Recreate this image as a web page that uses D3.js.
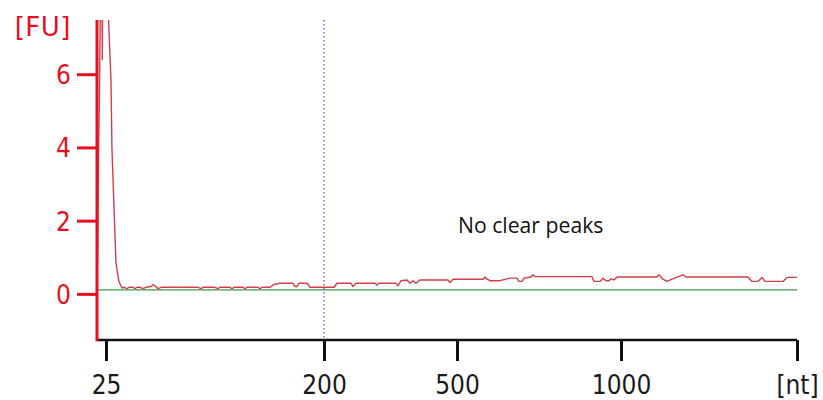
<!DOCTYPE html>
<html>
<head>
<meta charset="utf-8">
<script src="https://cdn.jsdelivr.net/npm/d3@7/dist/d3.min.js"></script>
<style>
  html, body { margin: 0; padding: 0; background: #fff; }
  svg { display: block; }
  .lbl { font-family: 'DejaVu Sans Condensed', 'DejaVu Sans', sans-serif; font-stretch: condensed; font-size: 26px; }
  .unit { font-family: 'DejaVu Sans', sans-serif; font-size: 26px; letter-spacing: 0.5px; }
</style>
</head>
<body>
<svg id="chart" width="823" height="400"></svg>
<script>
// Electropherogram trace: fragment size (nt) and fluorescence (FU)
const sizeNt = [17, 17.6, 18.3, 19.2, 19.9, 20.4, 21.3, 21.7, 22.2, 24.1, 26.2, 27.0, 29.0, 29.8, 31.2, 33.0, 35.4, 37.8,
  39.5, 41.9, 43.5, 46.7, 48.3, 49.9, 52.3, 54.7, 57.1, 61.1, 62.7, 65.1, 66.7, 69.2, 98.9, 101.3, 102.9, 112.5, 114.9, 116.5,
  124.5, 126.2, 127.8, 135, 136.6, 138.2, 147, 148.6, 150.2, 156.7, 159.9, 164.7, 175.1, 176.7, 178.3, 179.9, 185.5, 187.1, 188.8,
  222.6, 229.3, 260.9, 265.4, 272.2, 315, 319.5, 324, 362.4, 366.9, 373.7, 387.2, 394, 400.8, 407.5, 416.5, 479.7, 484.2, 491,
  579.3, 585.4, 591.5, 600.6, 631.1, 661.6, 682.9, 689, 698.2, 704.3, 725.6, 731.7, 737.8, 911.6, 917.7, 936, 945.1, 954.3,
  963.4, 969.5, 978.7, 987.8, 1613.6, 1647.7, 1715.9, 1784.1, 1869.3, 2056.8, 2108, 3164.7, 3232.9, 3335.2, 3403.3, 3454.5,
  3761.3, 3829.5, 4000];
const fluorescence = [0.2, 1.2, 3.6, 5.6, 7.6, 9.5, 9.0, 6.4, 9.5, 11, 9.5, 7.5, 5.85, 3.94, 2.57, 0.85, 0.33, 0.16,
  0.18, 0.14, 0.18, 0.18, 0.14, 0.18, 0.18, 0.14, 0.18, 0.2, 0.25, 0.2, 0.14, 0.18, 0.18, 0.14, 0.18, 0.18, 0.14, 0.18,
  0.18, 0.14, 0.18, 0.18, 0.14, 0.18, 0.18, 0.14, 0.18, 0.18, 0.26, 0.29, 0.29, 0.2, 0.2, 0.29, 0.29, 0.27, 0.18,
  0.18, 0.29, 0.29, 0.2, 0.29, 0.29, 0.24, 0.29, 0.29, 0.22, 0.36, 0.38, 0.29, 0.36, 0.29, 0.38, 0.38, 0.31, 0.4,
  0.4, 0.46, 0.4, 0.36, 0.36, 0.43, 0.43, 0.34, 0.34, 0.43, 0.46, 0.52, 0.47, 0.47, 0.34, 0.34, 0.43, 0.36,
  0.36, 0.41, 0.38, 0.46, 0.46, 0.52, 0.4, 0.34, 0.4, 0.52, 0.46, 0.46, 0.34, 0.34, 0.45, 0.34,
  0.34, 0.45, 0.45];

// Baseline level (FU) and the marker position (nt)
const baselineFU = 0.11;
const markerNt = 200;

// Axis ticks
const xTickValues = [25, 200, 500, 1000, 4000];
const xTickLabels = ["25", "200", "500", "1000", "[nt]"];
const yTickValues = [0, 2, 4, 6];
const yUnitLabel = "[FU]";
const note = "No clear peaks";

const svg = d3.select("#chart");
const mLeft = 97, mRight = 797, mTop = 20, mBottom = 340;
const W = mRight - mLeft;

// Size axis is piecewise linear between ladder sizes
const xDomain = [17, 25, 200, 500, 1000, 4000];
const xFrac = [0, 9 / 700, 227 / 700, 360 / 700, 524 / 700, 1];
const x = d3.scaleLinear().domain(xDomain).range(xFrac.map(f => mLeft + f * W));
const y = d3.scaleLinear().domain([-1.26, 7.48]).range([mBottom, mTop]);

const data = sizeNt.map((s, i) => ({ s, v: fluorescence[i] }));

svg.append("defs").append("clipPath").attr("id", "plotClip")
  .append("rect").attr("x", mLeft).attr("y", mTop).attr("width", W).attr("height", mBottom - mTop);

const plot = svg.append("g").attr("clip-path", "url(#plotClip)");

// Baseline
plot.append("line")
  .attr("x1", x(17)).attr("x2", x(4000))
  .attr("y1", y(baselineFU)).attr("y2", y(baselineFU))
  .attr("stroke", "#3f9a4c").attr("stroke-width", 1.3);

// Marker line
plot.append("line")
  .attr("x1", x(markerNt)).attr("x2", x(markerNt))
  .attr("y1", y.range()[1]).attr("y2", y.range()[0])
  .attr("stroke", "#5d5ad8").attr("stroke-width", 1.3)
  .attr("stroke-dasharray", "1.4,2.6");

// Trace
plot.append("path").datum(data)
  .attr("fill", "none")
  .attr("stroke", "#d13f4a")
  .attr("stroke-width", 1.4)
  .attr("stroke-linejoin", "round")
  .attr("d", d3.line().x(d => x(d.s)).y(d => y(d.v)));

// X axis (black)
const xAxis = d3.axisBottom(x).tickValues(xTickValues).tickSize(21).tickPadding(8)
  .tickFormat((d, i) => xTickLabels[i]);
const gx = svg.append("g").attr("transform", `translate(0,${mBottom})`).call(xAxis);
gx.select(".domain").attr("d", `M${mLeft},0H${mRight}`).attr("stroke", "#111").attr("stroke-width", 2.7);
gx.selectAll(".tick line").attr("stroke", "#111").attr("stroke-width", 3);
gx.selectAll(".tick text").attr("class", "lbl").attr("fill", "#1a1a1a").attr("dy", "0.95em");

// Y axis (red)
const yAxis = d3.axisLeft(y).tickValues(yTickValues).tickSize(20).tickPadding(6).tickFormat(d3.format("d"));
const gy = svg.append("g").attr("transform", `translate(${mLeft},0)`).call(yAxis);
gy.select(".domain").attr("d", `M0,${mTop}V${mBottom + 1.3}`).attr("stroke", "#e8101e").attr("stroke-width", 3);
gy.selectAll(".tick line").attr("stroke", "#e8101e").attr("stroke-width", 3);
gy.selectAll(".tick text").attr("class", "lbl").attr("fill", "#e8101e").attr("dy", "0.36em");

svg.append("text").attr("class", "unit")
  .attr("x", mLeft - 26).attr("y", 36)
  .attr("text-anchor", "end").attr("fill", "#e8101e")
  .text(yUnitLabel);

svg.append("text")
  .attr("x", 458).attr("y", 233)
  .attr("font-family", "'Open Sans', sans-serif").attr("font-size", 21.2)
  .attr("fill", "#111")
  .text(note);
</script>
</body>
</html>
